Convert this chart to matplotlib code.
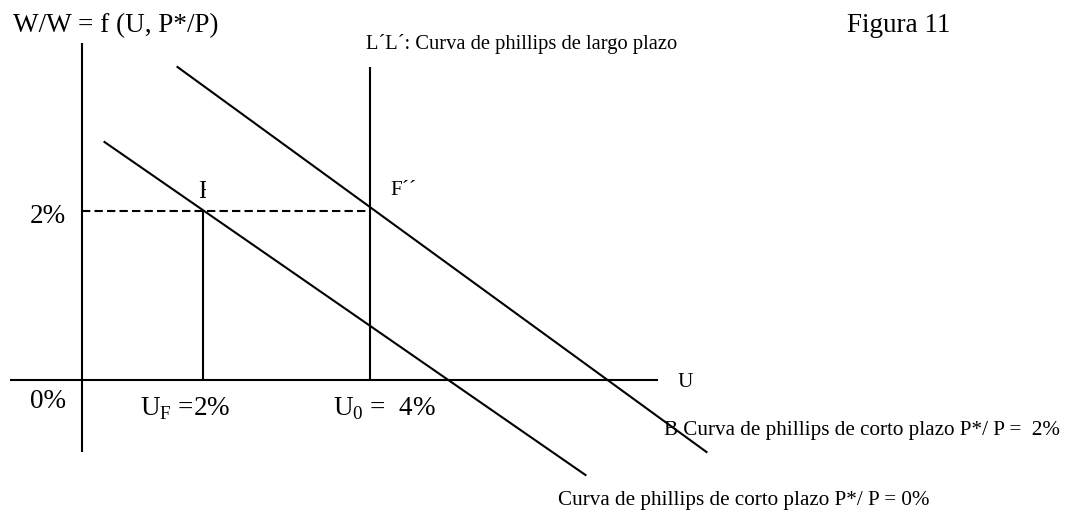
import matplotlib
matplotlib.use("Agg")
import matplotlib.pyplot as plt
from matplotlib.patches import Rectangle

plt.rcParams['font.family'] = ['Liberation Serif', 'DejaVu Serif']
plt.rcParams['mathtext.fontset'] = 'custom'
plt.rcParams['mathtext.rm'] = 'Liberation Serif'

# Diagram coordinates (origin at axes crossing, schematic units)
x_axis_u = [-72, 576]          # horizontal axis (U)
y_axis_w = [337, -72]          # vertical axis (W/W)
u_long_run = 288               # L'L' long-run Phillips curve position (U0 = 4%)
u_f = 121                      # UF = 2%
w_2pct = 169                   # 2% wage inflation level
ll_top = 313

# Short-run Phillips curves (endpoints)
sr_2pct_u = [96, 625]
sr_2pct_w = [313, -72]
sr_0pct_u = [23, 504]
sr_0pct_w = [238, -95]

fig = plt.figure(figsize=(10.65, 5.12), dpi=100)
ax = fig.add_axes([0, 0, 1, 1])
ax.set_xlim(-81.5, 1065 - 81.5)
ax.set_ylim(380 - 512, 380)
ax.axis('off')

lw = 1.5
k = 'black'
ax.plot(x_axis_u, [0, 0], color=k, lw=lw, solid_capstyle='butt')
ax.plot([0, 0], y_axis_w, color=k, lw=lw, solid_capstyle='butt')
ax.plot([u_long_run, u_long_run], [ll_top, 0], color=k, lw=lw, solid_capstyle='butt')
ax.plot([u_f, u_f], [w_2pct, 0], color=k, lw=lw, solid_capstyle='butt')
ax.plot([0, u_long_run], [w_2pct, w_2pct], color=k, lw=lw, dashes=(4, 2))
ax.plot(sr_2pct_u, sr_2pct_w, color=k, lw=lw)
ax.plot(sr_0pct_u, sr_0pct_w, color=k, lw=lw)

def px(x, y):
    return x - 81.5, 380 - y

big = 19.5
small = 15.2

def txt(x, y, s, size, **kw):
    X, Y = px(x, y)
    return ax.text(X, Y, s, fontsize=size, ha='left', va='baseline', **kw)

txt(13, 32, "W/W = f (U, P*/P)", big)
txt(847, 32, "Figura 11", big)
txt(366, 49, "L\u00b4L\u00b4: Curva de phillips de largo plazo", 14.8)
txt(30, 223, "2%", big)
txt(30, 408, "0%", big)
txt(140, 415, r"U$_{\mathregular{F}}$ =2%", big)
txt(333, 415, r"U$_{\mathregular{0}}$ =  4%", big)
txt(678, 387, "U", small)
txt(390, 195, "F\u00b4\u00b4", small)
t = txt(198, 198, "F", 18)
clip = Rectangle(px(190, 220), 16, 50, transform=ax.transData)
t.set_clip_on(True)
t.set_clip_path(clip)
txt(664, 435, "B Curva de phillips de corto plazo P*/ P =  2%", small)
txt(558, 505, "Curva de phillips de corto plazo P*/ P = 0%", small)

fig.savefig("out.png", dpi=100)
